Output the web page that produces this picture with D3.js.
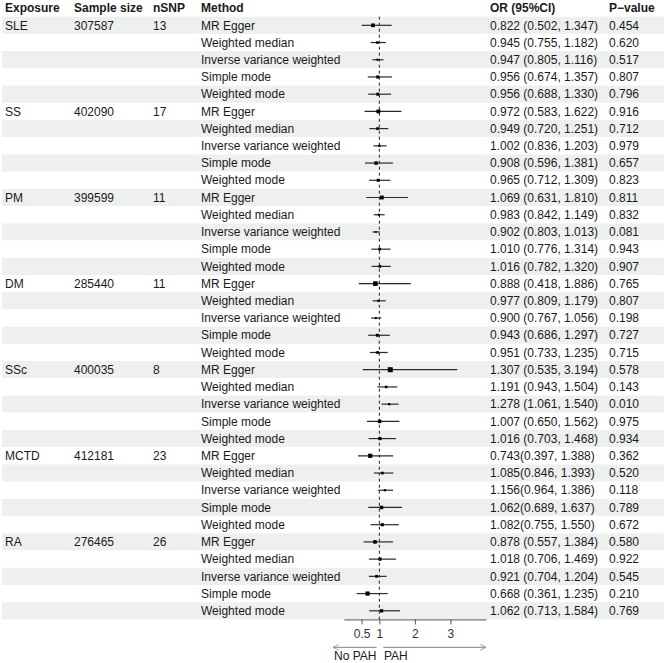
<!DOCTYPE html>
<html><head><meta charset="utf-8">
<script src="https://cdn.jsdelivr.net/npm/d3@7"></script>
<style>body{margin:0;background:#fff}text{font-family:"Liberation Sans",Arial,sans-serif}</style>
</head><body><svg id="c" width="666" height="663"></svg>
<script>
const exposures = ["SLE","SS","PM","DM","SSc","MCTD","RA"];
const sampleSizes = ["307587","402090","399599","285440","400035","412181","276465"];
const nSNPs = ["13","17","11","11","8","23","26"];
const methods = ["MR Egger","Weighted median","Inverse variance weighted","Simple mode","Weighted mode"];
const orValues = [
 [0.822,0.945,0.947,0.956,0.956],
 [0.972,0.949,1.002,0.908,0.965],
 [1.069,0.983,0.902,1.010,1.016],
 [0.888,0.977,0.900,0.943,0.951],
 [1.307,1.191,1.278,1.007,1.016],
 [0.743,1.085,1.156,1.062,1.082],
 [0.878,1.018,0.921,0.668,1.062]];
const lowerCI = [
 [0.502,0.755,0.805,0.674,0.688],
 [0.583,0.720,0.836,0.596,0.712],
 [0.631,0.842,0.803,0.776,0.782],
 [0.418,0.809,0.767,0.686,0.733],
 [0.535,0.943,1.061,0.650,0.703],
 [0.397,0.846,0.964,0.689,0.755],
 [0.557,0.706,0.704,0.361,0.713]];
const upperCI = [
 [1.347,1.182,1.116,1.357,1.330],
 [1.622,1.251,1.203,1.381,1.309],
 [1.810,1.149,1.013,1.314,1.320],
 [1.886,1.179,1.056,1.297,1.235],
 [3.194,1.504,1.540,1.562,1.468],
 [1.388,1.393,1.386,1.637,1.550],
 [1.384,1.469,1.204,1.235,1.584]];
const orLabels = [
 ["0.822 (0.502, 1.347)","0.945 (0.755, 1.182)","0.947 (0.805, 1.116)","0.956 (0.674, 1.357)","0.956 (0.688, 1.330)"],
 ["0.972 (0.583, 1.622)","0.949 (0.720, 1.251)","1.002 (0.836, 1.203)","0.908 (0.596, 1.381)","0.965 (0.712, 1.309)"],
 ["1.069 (0.631, 1.810)","0.983 (0.842, 1.149)","0.902 (0.803, 1.013)","1.010 (0.776, 1.314)","1.016 (0.782, 1.320)"],
 ["0.888 (0.418, 1.886)","0.977 (0.809, 1.179)","0.900 (0.767, 1.056)","0.943 (0.686, 1.297)","0.951 (0.733, 1.235)"],
 ["1.307 (0.535, 3.194)","1.191 (0.943, 1.504)","1.278 (1.061, 1.540)","1.007 (0.650, 1.562)","1.016 (0.703, 1.468)"],
 ["0.743(0.397, 1.388)","1.085(0.846, 1.393)","1.156(0.964, 1.386)","1.062(0.689, 1.637)","1.082(0.755, 1.550)"],
 ["0.878 (0.557, 1.384)","1.018 (0.706, 1.469)","0.921 (0.704, 1.204)","0.668 (0.361, 1.235)","1.062 (0.713, 1.584)"]];
const pValues = [
 ["0.454","0.620","0.517","0.807","0.796"],
 ["0.916","0.712","0.979","0.657","0.823"],
 ["0.811","0.832","0.081","0.943","0.907"],
 ["0.765","0.807","0.198","0.727","0.715"],
 ["0.578","0.143","0.010","0.975","0.934"],
 ["0.362","0.520","0.118","0.789","0.672"],
 ["0.580","0.922","0.545","0.210","0.769"]];
const xTicks = [0.5,1,2,3];
const headers = ["Exposure","Sample size","nSNP","Method","OR (95%CI)","P\u2212value"];

const rows = [];
exposures.forEach((e,i)=>methods.forEach((m,j)=>rows.push({
  exp: j===0?e:"", ss: j===0?sampleSizes[i]:"", n: j===0?nSNPs[i]:"", m,
  or: orValues[i][j], lo: lowerCI[i][j], hi: upperCI[i][j], lab: orLabels[i][j], p: pValues[i][j]})));

const svg = d3.select("#c");
const top0 = 16.7, rh = 17.22;
const y = d3.scaleBand().domain(d3.range(rows.length)).range([top0, top0 + rh*rows.length]).padding(0);
const x = d3.scaleLinear().domain([0,4]).range([343.8, 486]);
const sz = d3.scaleSqrt().domain([0, d3.max(rows, r=>Math.log(r.hi/r.lo))]).range([0, 5]);
const txt = "#1a1a1a";

svg.append("g").selectAll("rect").data(rows).join("rect")
  .attr("x",2).attr("width",662).attr("y",(d,i)=>y(i)).attr("height",y.bandwidth())
  .attr("fill",(d,i)=>i%2===0?"#eef0f0":"#ffffff");

const colX = [5,74,153,201,490,609];
svg.append("g").selectAll("text").data(headers).join("text")
  .attr("x",(d,i)=>colX[i]).attr("y",7.8).attr("dy","0.35em")
  .attr("font-size",12).attr("font-weight","bold").attr("fill",txt).text(d=>d);

const keys = ["exp","ss","n","m","lab","p"];
const tg = svg.append("g");
rows.forEach((r,i)=>{
  keys.forEach((k,c)=>{
    if(!r[k]) return;
    tg.append("text").attr("x",colX[c]).attr("y",y(i)+rh/2).attr("dy","0.35em")
      .attr("font-size",12).attr("fill",txt).text(r[k]);
  });
});

// reference line
svg.append("line").attr("x1",x(1)).attr("x2",x(1)).attr("y1",top0).attr("y2",top0+rh*rows.length)
  .attr("stroke","#222").attr("stroke-width",1).attr("stroke-dasharray","3,3");

const fg = svg.append("g");
rows.forEach((r,i)=>{
  const cy = y(i)+rh/2;
  fg.append("line").attr("x1",x(r.lo)).attr("x2",x(r.hi)).attr("y1",cy).attr("y2",cy)
    .attr("stroke","#2a2a2a").attr("stroke-width",1.2);
  const s = sz(Math.log(r.hi/r.lo));
  fg.append("rect").attr("x",x(r.or)-s/2).attr("y",cy-s/2).attr("width",s).attr("height",s).attr("fill","#000");
});

// axis
const ay = top0+rh*rows.length;
const axis = svg.append("g").attr("transform",`translate(0,${ay})`)
  .call(d3.axisBottom(x).tickValues(xTicks).tickSize(5).tickSizeOuter(0).tickFormat(d=>String(d)));
axis.select(".domain").attr("stroke","#555");
axis.selectAll(".tick line").attr("stroke","#555");
axis.selectAll(".tick text").attr("font-size",12).attr("fill","#333").attr("dy","0.9em")
  .style("font-family","'Liberation Sans',Arial,sans-serif");

// arrows
const defs = svg.append("defs");
defs.append("marker").attr("id","ah").attr("viewBox","0 0 10 10").attr("refX",9).attr("refY",5)
  .attr("markerWidth",6).attr("markerHeight",6).attr("orient","auto-start-reverse")
  .append("path").attr("d","M1,1L9,5L1,9").attr("fill","none").attr("stroke","#999").attr("stroke-width",1.3);
const arY = 647.3;
svg.append("line").attr("x1",x(0.92)).attr("x2",333).attr("y1",arY).attr("y2",arY)
  .attr("stroke","#999").attr("stroke-width",1.2).attr("marker-end","url(#ah)");
svg.append("line").attr("x1",x(1.11)).attr("x2",x(4)).attr("y1",arY).attr("y2",arY)
  .attr("stroke","#999").attr("stroke-width",1.2).attr("marker-end","url(#ah)");
svg.append("text").attr("x",334).attr("y",656).attr("dy","0.35em").attr("font-size",12).attr("fill",txt).text("No PAH");
svg.append("text").attr("x",384).attr("y",656).attr("dy","0.35em").attr("font-size",12).attr("fill",txt).text("PAH");
</script></body></html>
